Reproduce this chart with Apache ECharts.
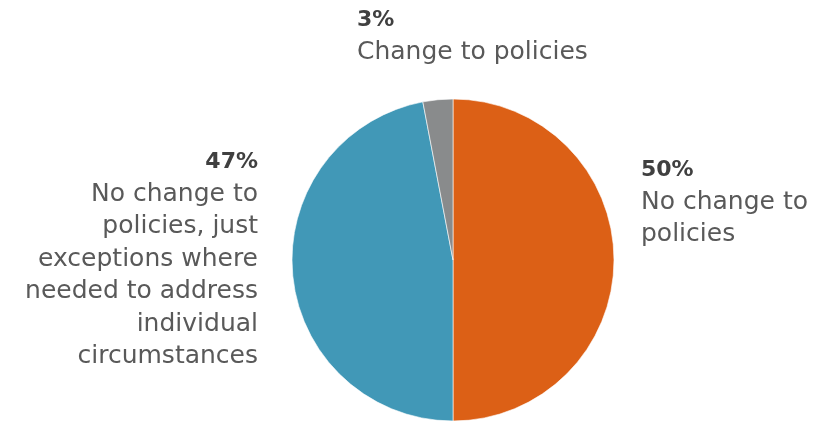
<!DOCTYPE html>
<html><head><meta charset="utf-8">
<script src="https://cdn.jsdelivr.net/npm/echarts@6/dist/echarts.min.js"></script>
<style>html,body{margin:0;padding:0;background:#fff}#c{width:826px;height:421px}</style>
</head><body><div id="c"></div>
<script>
const categories = ["No change to\npolicies", "No change to\npolicies, just\nexceptions where\nneeded to address\nindividual\ncircumstances", "Change to policies"];
const values = [50, 47, 3];
const colors = ["#DC6016", "#4198B7", "#898B8C"];

const labelPos = [
  {x: 641, y: 154, align: 'left'},
  {x: 258, y: 146, align: 'right'},
  {x: 357, y: 4, align: 'left'}
];

const chart = echarts.init(document.getElementById('c'));
chart.setOption({
  animation: false,
  series: [{
    type: 'pie',
    center: [453, 260],
    radius: 161,
    startAngle: 90,
    clockwise: true,
    edgeDistance: 0,
    data: categories.map((n, i) => ({name: n, value: values[i], itemStyle: {color: colors[i]},
      label: {align: labelPos[i].align, rich: {p: {align: labelPos[i].align}, n: {align: labelPos[i].align}}}})),
    itemStyle: {borderColor: '#fff', borderWidth: 0.6},
    label: {
      show: true,
      position: 'outside',
      overflow: 'none',
      width: 300,
      formatter: p => '{p|' + p.value + '%}\n' + p.name.split('\n').map(s => '{n|' + s + '}').join('\n'),
      rich: {
        p: {fontFamily: 'DejaVu Sans', fontWeight: 'bold', fontSize: 22, color: '#404040', lineHeight: 32},
        n: {fontFamily: 'DejaVu Sans', fontSize: 25, color: '#595959', lineHeight: 32.5}
      }
    },
    labelLine: {show: false},
    labelLayout: p => {
      const l = labelPos[p.dataIndex];
      return {x: l.x, y: l.y, align: l.align, verticalAlign: 'top'};
    }
  }]
});
</script></body></html>
